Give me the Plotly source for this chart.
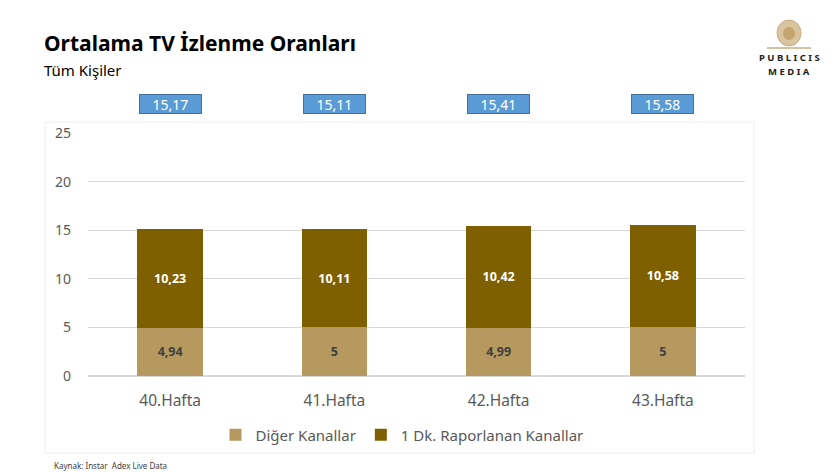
import plotly.graph_objects as go

categories = ["40.Hafta", "41.Hafta", "42.Hafta", "43.Hafta"]
diger = [4.94, 5, 4.99, 5]
rapor = [10.23, 10.11, 10.42, 10.58]
series_names = ["Diğer Kanallar", "1 Dk. Raporlanan Kanallar"]
y_ticks = [0, 5, 10, 15, 20, 25]

totals = [round(a + b, 2) for a, b in zip(diger, rapor)]

FONT = "Noto Sans"
OFF = 8  # browser body margin
W, H = 837 - OFF, 472 - OFF
L, R, T, B = 88 - OFF, 92, 133 - OFF, 96
pw, ph = W - L - R, H - T - B


def px(x):
    return (x - OFF - L) / pw


def py(y):
    return (H - B - (y - OFF)) / ph


fig = go.Figure()
fig.add_trace(go.Bar(
    x=categories, y=diger, name=series_names[0],
    marker=dict(color="#B5995E", line=dict(width=0)),
    texttemplate="%{y}", textposition="inside", insidetextanchor="middle",
    textfont=dict(family=FONT, size=12.5, color="#404040", weight="bold"),
    textangle=0,
))
fig.add_trace(go.Bar(
    x=categories, y=rapor, name=series_names[1],
    marker=dict(color="#7F6000", line=dict(width=0)),
    texttemplate="%{y}", textposition="inside", insidetextanchor="middle",
    textfont=dict(family=FONT, size=12.5, color="white", weight="bold"),
    textangle=0,
))

for c, t in zip(categories, totals):
    fig.add_annotation(
        x=c, y=py(104), xref="x", yref="paper", showarrow=False,
        text=f"{t:.2f}".replace(".", ","),
        font=dict(family=FONT, size=14, color="white"),
        bgcolor="#5B9BD5", bordercolor="#41719C", borderwidth=1,
        borderpad=0, width=61, height=18, xanchor="center", yanchor="middle",
    )

# chart area border
fig.add_shape(type="rect", xref="paper", yref="paper",
              x0=px(45), x1=px(754), y0=py(453), y1=py(122),
              line=dict(color="#EEEEEE", width=1), layer="below")

# titles
fig.add_annotation(x=px(42), y=py(43), xref="paper", yref="paper", showarrow=False,
                   xanchor="left", yanchor="middle",
                   text="<b>Ortalama TV İzlenme Oranları</b>",
                   font=dict(family=FONT, size=21, color="black"))
fig.add_annotation(x=px(42), y=py(70), xref="paper", yref="paper", showarrow=False,
                   xanchor="left", yanchor="middle", text="Tüm Kişiler",
                   font=dict(family=FONT, size=15, color="black"))
fig.add_annotation(x=px(52), y=py(465), xref="paper", yref="paper", showarrow=False,
                   xanchor="left", yanchor="middle", text="Kaynak: Instar  Adex Live Data",
                   font=dict(family=FONT, size=8, color="#404040"))
# logo
fig.add_annotation(x=px(789), y=py(58), xref="paper", yref="paper", showarrow=False,
                   xanchor="center", yanchor="middle", text="<b>P U B L I C I S</b>",
                   font=dict(family=FONT, size=9.5, color="#222222"))
fig.add_annotation(x=px(789), y=py(72), xref="paper", yref="paper", showarrow=False,
                   xanchor="center", yanchor="middle", text="<b>M E D I A</b>",
                   font=dict(family=FONT, size=9.5, color="#222222"))
fig.add_shape(type="circle", xref="paper", yref="paper",
              x0=px(777), x1=px(801), y0=py(46), y1=py(20),
              fillcolor="#D9C4A0", line=dict(color="#C8AE80", width=1))
fig.add_shape(type="circle", xref="paper", yref="paper",
              x0=px(783), x1=px(795), y0=py(40), y1=py(27),
              fillcolor="#C4A56E", line=dict(width=0))
fig.add_shape(type="line", xref="paper", yref="paper",
              x0=px(767), x1=px(811), y0=py(48), y1=py(48),
              line=dict(color="#C8AE80", width=1.5))

fig.update_layout(
    width=W, height=H, barmode="stack", bargap=0.6,
    separators=",.",
    margin=dict(l=L, r=R, t=T, b=B, autoexpand=False),
    paper_bgcolor="white", plot_bgcolor="white",
    font=dict(family=FONT, color="#595959"),
    showlegend=True,
    legend=dict(orientation="h", x=px(402), xanchor="center", y=py(435), yanchor="middle",
                font=dict(family=FONT, size=15, color="#595959"),
                traceorder="normal"),
    xaxis=dict(showgrid=False, showline=False, ticks="", ticklabelstandoff=13,
               tickfont=dict(family=FONT, size=15.5, color="#595959")),
    yaxis=dict(range=[0, 25], tickvals=y_ticks, showgrid=True, gridcolor="#D9D9D9",
               gridwidth=1, zeroline=True, zerolinecolor="#D9D9D9", showline=False,
               ticks="", ticklabelstandoff=16,
               tickfont=dict(family=FONT, size=14, color="#595959")),
)

fig.write_html("out.html")
